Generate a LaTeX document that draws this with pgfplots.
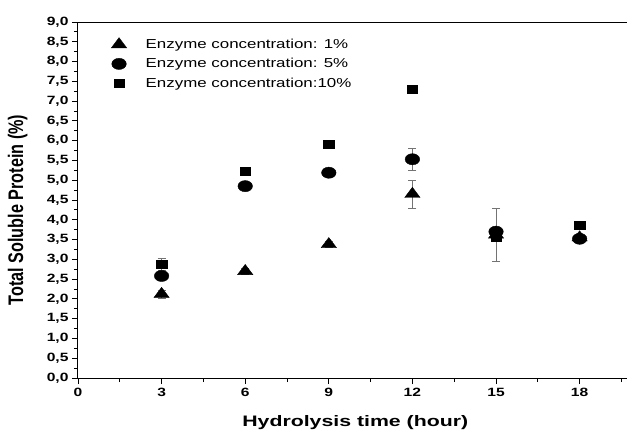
\documentclass[border=0pt]{standalone}
\usepackage{fontspec}
\setmainfont{Liberation Sans}[FakeStretch=1.3]
\newfontfamily\widefont{Liberation Sans}[FakeStretch=1.4]
\newfontfamily\plainfont{Liberation Sans}
\usepackage{pgfplots}
\pgfplotsset{compat=1.18}

\begin{document}
\begin{tikzpicture}
\begin{axis}[
  name=ax,
  scale only axis,
  width=549pt, height=356pt,
  xmin=0, xmax=19.7, ymin=0, ymax=9,
  axis x line*=box, axis y line*=left,
  axis line style={line width=1pt},
  xtick={0,3,...,18}, minor xtick={1.5,4.5,...,19.5},
  ytick={0,0.5,...,9}, minor ytick={0.25,0.75,...,8.75},
  xtick pos=bottom, ytick pos=left,
  tick align=outside,
  major tick length=6pt, minor tick length=4pt,
  every tick/.style={black, line width=0.9pt},
  /pgf/number format/assume math mode=true,
  yticklabel style={/pgf/number format/.cd, use comma, fixed, fixed zerofill, precision=1},
  tick label style={font=\bfseries\fontsize{12}{14}\selectfont},
  xticklabel style={yshift=-1pt},
  xlabel={Hydrolysis time (hour)},
  ylabel={\scalebox{1}[1.3]{Total Soluble Protein (\%)}},
  xlabel style={font=\widefont\bfseries\fontsize{15.2}{17}\selectfont, at={(axis description cs:0.505,0)}, anchor=base, yshift=-48pt},
  ylabel style={font=\plainfont\bfseries\fontsize{16.2}{18}\selectfont, at={(axis description cs:-0.110,0.472)}, anchor=center},
  legend cell align=left,
  legend style={draw=none, fill=none, at={(axis description cs:0.055,0.964)}, anchor=north west,
    font=\fontsize{13}{15}\selectfont, row sep=4.5pt,
    /tikz/every odd column/.append style={column sep=17pt}},
  legend image code/.code={\draw plot coordinates {(0.35cm,0cm)};},
  error bars/y dir=both, error bars/y explicit,
  error bars/error bar style={black!55, line width=0.8pt},
  error bars/error mark options={rotate=90, mark size=4pt, black!55, line width=0.8pt},
]
% 1%
\addplot[only marks, mark=triangle*, mark size=6.8pt, mark options={xscale=1.3, fill=black}]
  coordinates {
  (3,2.12) +- (0,0.10)
  (6,2.70) +- (0,0.07)
  (9,3.38) +- (0,0.07)
  (12,4.65) +- (0,0.35)
  (15,3.62) +- (0,0.67)
  (18,3.55) +- (0,0.05)
};
% 5%
\addplot[only marks, mark=*, mark size=5.6pt, mark options={xscale=1.3, fill=black}]
  coordinates {
  (3,2.58) +- (0,0.05)
  (6,4.85) +- (0,0.05)
  (9,5.19) +- (0,0.08)
  (12,5.53) +- (0,0.28)
  (15,3.70) +- (0,0.05)
  (18,3.52) +- (0,0.05)
};
% 10%
\addplot[only marks, mark=square*, mark size=3.9pt, mark options={xscale=1.35, fill=black}]
  coordinates {
  (3,2.88) +- (0,0.15)
  (6,5.23) +- (0,0.03)
  (9,5.92) +- (0,0.03)
  (12,7.30) +- (0,0.07)
  (15,3.55) +- (0,0.05)
  (18,3.86) +- (0,0.10)
};
\legend{Enzyme concentration: 1\%, Enzyme concentration: 5\%, Enzyme concentration:10\%}
\end{axis}
\pgfresetboundingbox
\path ([xshift=-78pt,yshift=-51pt]ax.south west) rectangle ([yshift=22pt]ax.north east);
\end{tikzpicture}
\end{document}
